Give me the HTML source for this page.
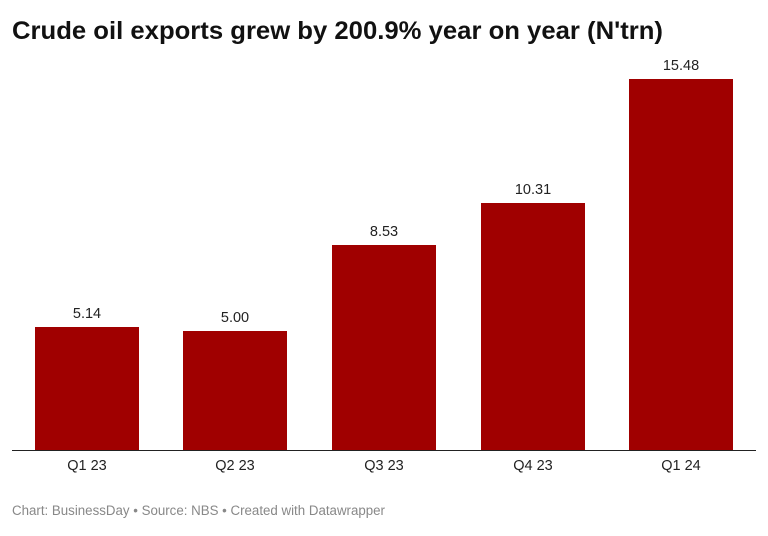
<!DOCTYPE html>
<html><head><style>
body{margin:0;width:768px;height:531px;background:#fff;overflow:hidden;font-family:"Liberation Sans",sans-serif;}
</style></head><body>
<svg width="768" height="531" xmlns="http://www.w3.org/2000/svg" font-family="Liberation Sans, sans-serif">
<text x="12" y="39" font-size="25" font-weight="bold" fill="#111" textLength="651" lengthAdjust="spacingAndGlyphs">Crude oil exports grew by 200.9% year on year (N'trn)</text>
<g fill="#a00000">
<rect x="35" y="327" width="104" height="123"/>
<rect x="183" y="331" width="104" height="119"/>
<rect x="332" y="245" width="104" height="205"/>
<rect x="481" y="203" width="104" height="247"/>
<rect x="629" y="79" width="104" height="371"/>
</g>
<line x1="12" y1="450.5" x2="756" y2="450.5" stroke="#222" stroke-width="1"/>
<g font-size="14.5" fill="#222" text-anchor="middle">
<text x="87" y="318">5.14</text>
<text x="235" y="322">5.00</text>
<text x="384" y="236">8.53</text>
<text x="533" y="194">10.31</text>
<text x="681" y="70">15.48</text>
<text x="87" y="470">Q1 23</text>
<text x="235" y="470">Q2 23</text>
<text x="384" y="470">Q3 23</text>
<text x="533" y="470">Q4 23</text>
<text x="681" y="470">Q1 24</text>
</g>
<text x="12" y="515" font-size="13.5" fill="#888" textLength="373" lengthAdjust="spacingAndGlyphs">Chart: BusinessDay • Source: NBS • Created with Datawrapper</text>
</svg>
</body></html>
